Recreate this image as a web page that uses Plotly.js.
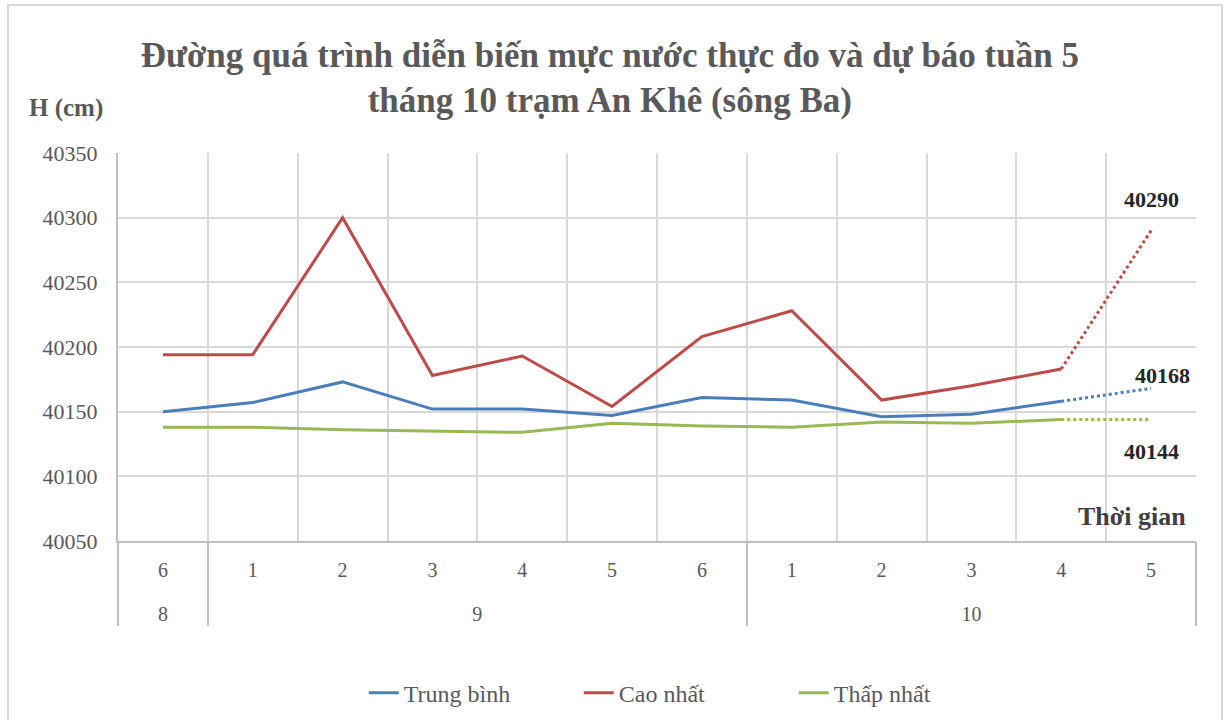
<!DOCTYPE html>
<html>
<head>
<meta charset="utf-8">
<script src="https://cdn.plot.ly/plotly-3.0.1.min.js"></script>
<style>
  html, body { margin: 0; padding: 0; background: #ffffff; }
  #wrap { position: relative; width: 1227px; height: 720px; }
  #chart { width: 1227px; height: 720px; }
  #frame { position: absolute; left: 7px; top: 4px; width: 1212px; height: 730px;
           border: 2px solid #d9d9d9; pointer-events: none; }
</style>
</head>
<body>
<div id="wrap">
  <div id="chart"></div>
  <div id="frame"></div>
</div>
<script>
// Week (tuần) and month (tháng) labels
const weeks  = ['6', '1', '2', '3', '4', '5', '6', '1', '2', '3', '4', '5'];
const months = ['8', '9', '9', '9', '9', '9', '9', '10', '10', '10', '10', '10'];

// Measured water level (cm)
const trungBinh = [40150, 40157, 40173, 40152, 40152, 40147, 40161, 40159, 40146, 40148, 40158];
const caoNhat   = [40194, 40194, 40300, 40178, 40193, 40154, 40208, 40228, 40159, 40170, 40183];
const thapNhat  = [40138, 40138, 40136, 40135, 40134, 40141, 40139, 40138, 40142, 40141, 40144];

// Forecast, week 5 of October
const fcTrungBinh = 40168;
const fcCaoNhat   = 40290;
const fcThapNhat  = 40144;

const seriesNames = ['Trung bình', 'Cao nhất', 'Thấp nhất'];
const colors = ['#4a7ebb', '#be4b48', '#98b954'];

// category positions on the x axis
const idx = weeks.map((_, i) => i);
const nObs = trungBinh.length;
const xObs = idx.slice(0, nObs);
const xFc  = idx.slice(nObs - 1);

// month groups
const groupLabels = [], groupCenters = [], groupBounds = [];
let start = 0;
for (let i = 1; i <= months.length; i++) {
  if (i === months.length || months[i] !== months[start]) {
    groupLabels.push(months[start]);
    groupCenters.push((start + i - 1) / 2);
    groupBounds.push(start - 0.5);
    start = i;
  }
}
groupBounds.push(months.length - 0.5);
const catBounds = idx.map(i => i - 0.5).concat([idx.length - 0.5]);
const xRange = [-0.5, idx.length - 0.5];

const obs = [trungBinh, caoNhat, thapNhat];
const fc  = [fcTrungBinh, fcCaoNhat, fcThapNhat];
// all x axes share the same fixed range; spread the traces over them so every axis is drawn
const obsAxes = ['x', 'x2', 'x3'];

const traces = [];
obs.forEach((vals, i) => {
  traces.push({
    type: 'scatter', mode: 'lines', name: seriesNames[i],
    x: xObs, y: vals, xaxis: obsAxes[i], yaxis: 'y',
    line: { color: colors[i], width: 3 }
  });
});
obs.forEach((vals, i) => {
  traces.push({
    type: 'scatter', mode: 'lines', showlegend: false,
    x: xFc, y: [vals[vals.length - 1], fc[i]], xaxis: obsAxes[i], yaxis: 'y',
    line: { color: colors[i], width: 3, dash: 'dot' }
  });
});

const serif = "'Liberation Serif', 'Times New Roman', serif";
const grey = '#595959';
const lastIdx = idx[idx.length - 1];

const layout = {
  width: 1227, height: 720,
  margin: { l: 118, r: 31, t: 153, b: 179, autoexpand: false },
  paper_bgcolor: '#ffffff', plot_bgcolor: '#ffffff',
  font: { family: serif, color: grey, size: 20 },
  title: {
    text: 'Đường quá trình diễn biến mực nước thực đo và dự báo tuần 5<br>tháng 10 trạm An Khê (sông Ba)',
    font: { family: serif, size: 35, color: grey, weight: 'bold' },
    x: 0.497, xanchor: 'center', xref: 'container',
    y: 0.907, yanchor: 'middle', yref: 'container'
  },
  xaxis: {
    type: 'linear', range: xRange, automargin: false,
    tickmode: 'array', tickvals: idx, ticktext: weeks,
    showgrid: false, zeroline: false,
    showline: true, linecolor: '#bfbfbf', linewidth: 2,
    ticks: '', ticklabelstandoff: 10,
    tickfont: { family: serif, size: 20, color: grey }
  },
  xaxis2: {
    type: 'linear', range: xRange, overlaying: 'x', anchor: 'y', side: 'bottom', automargin: false,
    tickmode: 'array', tickvals: catBounds,
    showgrid: true, gridcolor: '#d9d9d9', gridwidth: 2,
    showticklabels: false, ticks: '', showline: false, zeroline: false
  },
  xaxis3: {
    type: 'linear', range: xRange, overlaying: 'x', anchor: 'y', side: 'bottom', automargin: false,
    tickmode: 'array', tickvals: groupCenters, ticktext: groupLabels,
    showgrid: false, showline: false, zeroline: false,
    ticks: '', ticklabelstandoff: 59,
    tickfont: { family: serif, size: 20, color: grey },
    minor: { tickmode: 'array', tickvals: groupBounds, ticks: 'outside', ticklen: 84,
             tickwidth: 2, tickcolor: '#bfbfbf', showgrid: false }
  },
  yaxis: {
    range: [40050, 40350], dtick: 50, tick0: 40050, automargin: false,
    showgrid: true, gridcolor: '#d9d9d9', gridwidth: 2,
    showline: true, linecolor: '#bfbfbf', linewidth: 2,
    ticks: '', ticklabelstandoff: 14,
    tickfont: { family: serif, size: 22, color: grey },
    tickformat: 'd', zeroline: false
  },
  showlegend: true,
  legend: {
    orientation: 'h', x: 0.228, xanchor: 'left', y: -0.392, yanchor: 'middle',
    font: { family: serif, size: 24, color: grey },
    entrywidth: 170, entrywidthmode: 'pixels',
    traceorder: 'normal'
  },
  annotations: [
    { xref: 'paper', yref: 'paper', x: -0.048, y: 1.116, xanchor: 'center', yanchor: 'middle',
      text: 'H (cm)', showarrow: false, font: { family: serif, size: 25, color: grey, weight: 'bold' } },
    { xref: 'paper', yref: 'paper', x: 0.9406, y: 0.0644, xanchor: 'center', yanchor: 'middle',
      text: 'Thời gian', showarrow: false, font: { family: serif, size: 26, color: '#404040', weight: 'bold' } },
    { xref: 'x', yref: 'y', x: lastIdx, y: fcCaoNhat, yshift: 31, xanchor: 'center', yanchor: 'middle',
      text: String(fcCaoNhat), showarrow: false, font: { family: serif, size: 22, color: '#262626', weight: 'bold' } },
    { xref: 'x', yref: 'y', x: lastIdx, y: fcTrungBinh, yshift: 13, xshift: 11, xanchor: 'center', yanchor: 'middle',
      text: String(fcTrungBinh), showarrow: false, font: { family: serif, size: 22, color: '#262626', weight: 'bold' } },
    { xref: 'x', yref: 'y', x: lastIdx, y: fcThapNhat, yshift: -32, xanchor: 'center', yanchor: 'middle',
      text: String(fcThapNhat), showarrow: false, font: { family: serif, size: 22, color: '#262626', weight: 'bold' } }
  ]
};

Plotly.newPlot('chart', traces, layout, { displayModeBar: false, staticPlot: true });
</script>
</body>
</html>
